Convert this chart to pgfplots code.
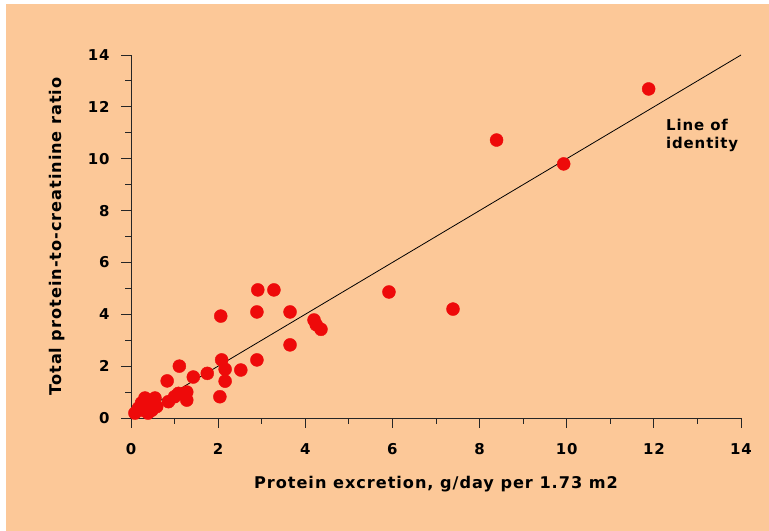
\documentclass[border=0pt]{standalone}
\usepackage{pgfplots}
\pgfplotsset{compat=1.18}
\usepackage{fontspec}
\setmainfont{DejaVu Sans}[LetterSpace=6]
\definecolor{peach}{RGB}{252,200,152}
\definecolor{dotred}{RGB}{238,10,10}
\begin{document}
\begin{tikzpicture}[x=1bp,y=1bp]
\fill[white] (0,0) rectangle (769,531);
\fill[peach] (6,0) rectangle (769,527);
\begin{axis}[
  at={(131bp,113bp)}, anchor=south west,
  scale only axis, width=610bp, height=363bp,
  xmin=0, xmax=14, ymin=0, ymax=14,
  axis lines=left, axis line style={-, line width=0.9pt, black!85},
  xtick={0,2,...,14}, ytick={0,2,...,14},
  minor xtick={1,3,...,13}, minor ytick={1,3,...,13},
  tick align=outside,
  major tick length=10bp, minor tick length=6bp,
  tick style={line width=0.9pt, black!85},
  clip=false,
  font=\bfseries\fontsize{15}{17}\selectfont,
  /pgf/number format/assume math mode=true,
  xticklabel style={yshift=-12bp},
  yticklabel style={xshift=-8bp},
  xlabel={Protein excretion, g/day per 1.73 m2},
  ylabel={Total protein-to-creatinine ratio},
  label style={font=\bfseries\fontsize{16.2}{18}\selectfont},
  xlabel style={yshift=-15bp},
  ylabel style={yshift=16bp},
]
\addplot[black, line width=0.8pt] coordinates {(0,0) (14,14)};
\addplot[only marks, mark=*, mark size=6.5bp, dotred, mark options={draw=dotred, fill=dotred}] coordinates {
  (0.09,0.19) (0.17,0.38) (0.24,0.58) (0.28,0.30) (0.32,0.77) (0.39,0.19)
  (0.44,0.50) (0.48,0.30) (0.55,0.77) (0.59,0.44) (0.86,0.63) (0.83,1.43)
  (1.00,0.82) (1.09,0.95) (1.11,2.00) (1.28,1.00) (1.28,0.69) (1.43,1.58)
  (1.75,1.72) (2.04,0.82) (2.08,2.24) (2.16,1.88) (2.16,1.42) (2.06,3.93)
  (2.52,1.85) (2.89,2.24) (2.89,4.09) (2.91,4.94) (3.28,4.94) (3.65,4.09)
  (3.65,2.82) (4.20,3.78) (4.25,3.60) (4.36,3.42) (5.92,4.86) (7.39,4.20)
  (8.39,10.72) (9.93,9.80) (11.88,12.69)
};
\node[anchor=west, align=left, font=\bfseries\fontsize{15}{18}\selectfont] at (axis cs:12.2,10.88) {Line of\\identity};
\end{axis}
\end{tikzpicture}
\end{document}
